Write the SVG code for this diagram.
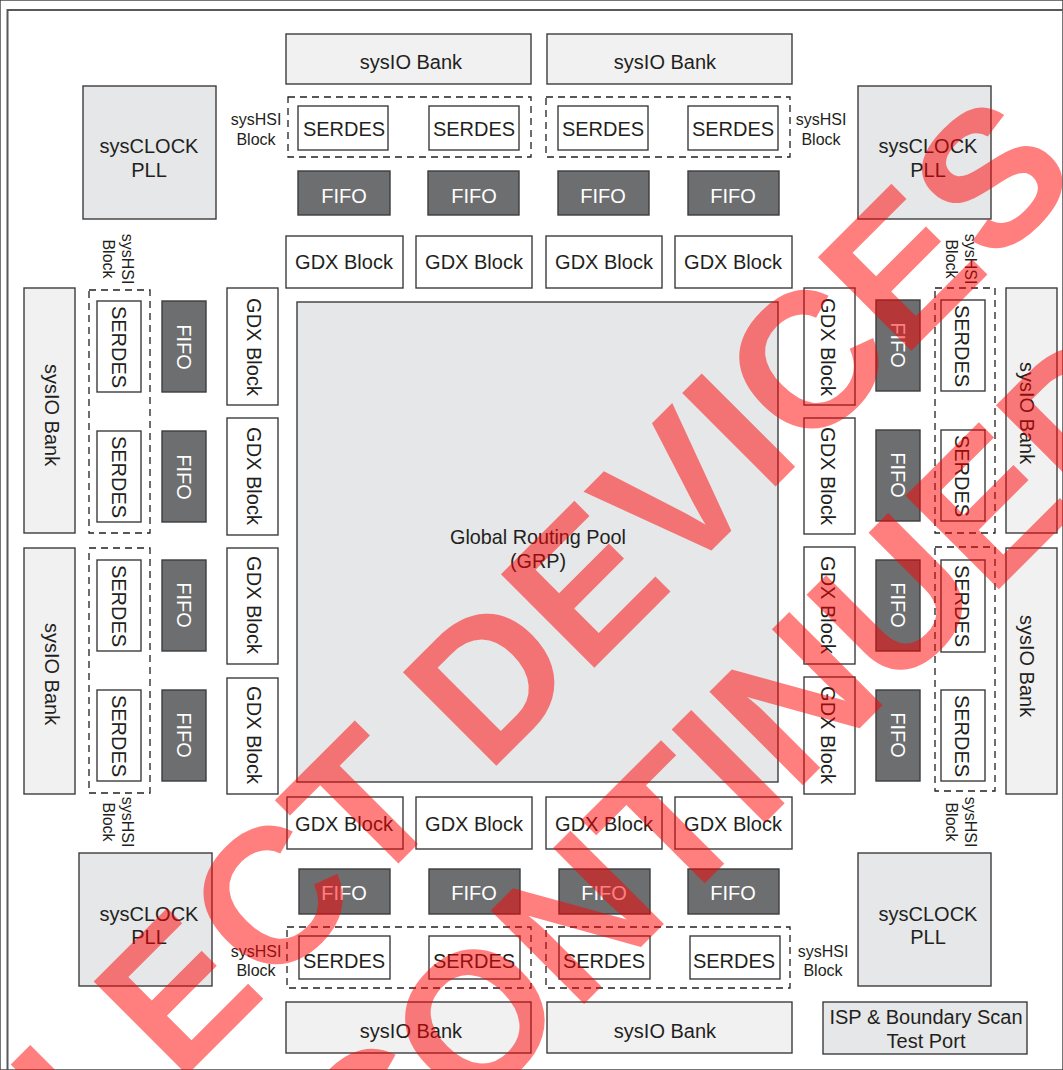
<svg xmlns="http://www.w3.org/2000/svg" width="1063" height="1070" viewBox="0 0 1063 1070">
<style>
text{font-family:"Liberation Sans",Arial,sans-serif;font-size:20px;fill:#231f20;text-anchor:middle}
rect{stroke:#3c3c3e;stroke-width:1.4}
.w{fill:#fff}.io{fill:#f1f1f2}.pll{fill:#e6e7e8}
.f{fill:#6d6e70}.f+text{fill:#fff}
.d{fill:none;stroke:#231f20;stroke-dasharray:7 5;stroke-width:1.3}
.s{font-size:16px}
.wm{font-size:192px;font-weight:700;fill:#ff0000;fill-opacity:.5;text-anchor:start;font-kerning:none}
</style>
<rect width="1063" height="1070" fill="#fff" stroke="none"/>
<path d="M7.500 1070V10H1063" fill="none" stroke="#58595b" stroke-width="2"/>
<g id="io-t1"><rect class="io" x="286" y="34" width="245" height="50"/><text x="411" y="69">sysIO Bank</text></g>
<g id="io-t2"><rect class="io" x="547" y="34" width="245" height="50"/><text x="665" y="69">sysIO Bank</text></g>
<g id="io-b1"><rect class="io" x="286" y="1002" width="245" height="51"/><text x="411" y="1038">sysIO Bank</text></g>
<g id="io-b2"><rect class="io" x="547" y="1002" width="245" height="51"/><text x="665" y="1038">sysIO Bank</text></g>
<g id="io-l1"><rect class="io" x="24" y="288" width="51" height="245"/><text transform="translate(45,415) rotate(90)">sysIO Bank</text></g>
<g id="io-l2"><rect class="io" x="24" y="548" width="51" height="246"/><text transform="translate(45,674) rotate(90)">sysIO Bank</text></g>
<g id="io-r1"><rect class="io" x="1006" y="288" width="51" height="245"/><text transform="translate(1020,413) rotate(90)">sysIO Bank</text></g>
<g id="io-r2"><rect class="io" x="1006" y="548" width="51" height="246"/><text transform="translate(1020,666) rotate(90)">sysIO Bank</text></g>
<g id="pll-tl"><rect class="pll" x="83" y="86" width="133" height="133"/><text x="149" y="153">sysCLOCK</text><text x="149" y="177">PLL</text></g>
<g id="pll-tr"><rect class="pll" x="858" y="86" width="133" height="133"/><text x="928" y="153">sysCLOCK</text><text x="928" y="177">PLL</text></g>
<g id="pll-bl"><rect class="pll" x="79" y="853" width="133" height="133"/><text x="149" y="921">sysCLOCK</text><text x="149" y="944">PLL</text></g>
<g id="pll-br"><rect class="pll" x="858" y="853" width="133" height="133"/><text x="928" y="921">sysCLOCK</text><text x="928" y="944">PLL</text></g>
<g id="isp"><rect class="pll" x="823" y="1002" width="204" height="52"/><text x="926" y="1024">ISP &amp; Boundary Scan</text><text x="926" y="1048">Test Port</text></g>
<g id="grp"><rect class="pll" x="297" y="302" width="481" height="480"/><text x="538" y="544" style="font-size:19.800px">Global Routing Pool</text><text x="538" y="568" style="font-size:19.800px">(GRP)</text></g>

<g id="hsi-t1"><rect class="d" x="288" y="97" width="243" height="60"/><text class="s" x="256" y="125">sysHSI</text><text class="s" x="256" y="145">Block</text></g>
<g id="hsi-t2"><rect class="d" x="546" y="97" width="244" height="60"/><text class="s" x="821" y="125">sysHSI</text><text class="s" x="821" y="145">Block</text></g>
<g id="hsi-b1"><rect class="d" x="287" y="927" width="244" height="61"/><text class="s" x="256" y="957">sysHSI</text><text class="s" x="256" y="976">Block</text></g>
<g id="hsi-b2"><rect class="d" x="546" y="927" width="244" height="61"/><text class="s" x="823" y="957">sysHSI</text><text class="s" x="823" y="976">Block</text></g>
<g id="hsi-l1"><rect class="d" x="89" y="290" width="61" height="243"/><text class="s" transform="translate(122,259) rotate(90)">sysHSI</text><text class="s" transform="translate(103,259) rotate(90)">Block</text></g>
<g id="hsi-l2"><rect class="d" x="89" y="548" width="61" height="245"/><text class="s" transform="translate(122,822) rotate(90)">sysHSI</text><text class="s" transform="translate(103,822) rotate(90)">Block</text></g>
<g id="hsi-r1"><rect class="d" x="935" y="288" width="60" height="245"/><text class="s" transform="translate(965,259) rotate(90)">sysHSI</text><text class="s" transform="translate(946,259) rotate(90)">Block</text></g>
<g id="hsi-r2"><rect class="d" x="935" y="547" width="60" height="244"/><text class="s" transform="translate(965,822) rotate(90)">sysHSI</text><text class="s" transform="translate(946,822) rotate(90)">Block</text></g>

<g id="serdes-t1"><rect class="w" x="298" y="106" width="90" height="44"/><text x="344" y="136">SERDES</text></g>
<g id="serdes-t2"><rect class="w" x="429" y="106" width="90" height="44"/><text x="474" y="136">SERDES</text></g>
<g id="serdes-t3"><rect class="w" x="558" y="106" width="90" height="44"/><text x="603" y="136">SERDES</text></g>
<g id="serdes-t4"><rect class="w" x="688" y="106" width="90" height="44"/><text x="733" y="136">SERDES</text></g>
<g id="fifo-t1"><rect class="f" x="298" y="171" width="92" height="44"/><text x="344" y="203">FIFO</text></g>
<g id="fifo-t2"><rect class="f" x="428" y="171" width="91" height="44"/><text x="474" y="203">FIFO</text></g>
<g id="fifo-t3"><rect class="f" x="558" y="171" width="91" height="44"/><text x="603" y="203">FIFO</text></g>
<g id="fifo-t4"><rect class="f" x="688" y="171" width="91" height="44"/><text x="733" y="203">FIFO</text></g>
<g id="gdx-t1"><rect class="w" x="286" y="236" width="117" height="52"/><text x="344" y="269">GDX Block</text></g>
<g id="gdx-t2"><rect class="w" x="416" y="236" width="116" height="52"/><text x="474" y="269">GDX Block</text></g>
<g id="gdx-t3"><rect class="w" x="546" y="236" width="116" height="52"/><text x="604" y="269">GDX Block</text></g>
<g id="gdx-t4"><rect class="w" x="675" y="236" width="117" height="52"/><text x="733" y="269">GDX Block</text></g>

<g id="gdx-b1"><rect class="w" x="287" y="797" width="116" height="52"/><text x="344" y="831">GDX Block</text></g>
<g id="gdx-b2"><rect class="w" x="416" y="797" width="116" height="52"/><text x="474" y="831">GDX Block</text></g>
<g id="gdx-b3"><rect class="w" x="546" y="797" width="116" height="52"/><text x="604" y="831">GDX Block</text></g>
<g id="gdx-b4"><rect class="w" x="675" y="797" width="117" height="52"/><text x="733" y="831">GDX Block</text></g>
<g id="fifo-b1"><rect class="f" x="299" y="869" width="91" height="45"/><text x="344" y="900">FIFO</text></g>
<g id="fifo-b2"><rect class="f" x="429" y="869" width="91" height="45"/><text x="474" y="900">FIFO</text></g>
<g id="fifo-b3"><rect class="f" x="559" y="869" width="91" height="45"/><text x="604" y="900">FIFO</text></g>
<g id="fifo-b4"><rect class="f" x="688" y="869" width="91" height="45"/><text x="733" y="900">FIFO</text></g>
<g id="serdes-b1"><rect class="w" x="299" y="936" width="91" height="43"/><text x="344" y="968">SERDES</text></g>
<g id="serdes-b2"><rect class="w" x="429" y="936" width="91" height="43"/><text x="474" y="968">SERDES</text></g>
<g id="serdes-b3"><rect class="w" x="559" y="936" width="91" height="43"/><text x="604" y="968">SERDES</text></g>
<g id="serdes-b4"><rect class="w" x="690" y="936" width="90" height="43"/><text x="734" y="968">SERDES</text></g>

<g id="serdes-l1"><rect class="w" x="97" y="301" width="44" height="91"/><text transform="translate(112,347) rotate(90)">SERDES</text></g>
<g id="serdes-l2"><rect class="w" x="97" y="431" width="44" height="91"/><text transform="translate(112,477) rotate(90)">SERDES</text></g>
<g id="serdes-l3"><rect class="w" x="97" y="560" width="44" height="91"/><text transform="translate(112,606) rotate(90)">SERDES</text></g>
<g id="serdes-l4"><rect class="w" x="97" y="690" width="44" height="91"/><text transform="translate(112,736) rotate(90)">SERDES</text></g>
<g id="fifo-l1"><rect class="f" x="162" y="301" width="44" height="91"/><text transform="translate(177,347) rotate(90)">FIFO</text></g>
<g id="fifo-l2"><rect class="f" x="162" y="431" width="44" height="91"/><text transform="translate(177,477) rotate(90)">FIFO</text></g>
<g id="fifo-l3"><rect class="f" x="162" y="560" width="44" height="91"/><text transform="translate(177,605) rotate(90)">FIFO</text></g>
<g id="fifo-l4"><rect class="f" x="162" y="690" width="44" height="91"/><text transform="translate(177,735) rotate(90)">FIFO</text></g>
<g id="gdx-l1"><rect class="w" x="227" y="288" width="51" height="117"/><text transform="translate(247,347) rotate(90)">GDX Block</text></g>
<g id="gdx-l2"><rect class="w" x="227" y="418" width="51" height="117"/><text transform="translate(247,476) rotate(90)">GDX Block</text></g>
<g id="gdx-l3"><rect class="w" x="227" y="548" width="51" height="116"/><text transform="translate(247,605) rotate(90)">GDX Block</text></g>
<g id="gdx-l4"><rect class="w" x="227" y="678" width="51" height="116"/><text transform="translate(247,735) rotate(90)">GDX Block</text></g>

<g id="gdx-r1"><rect class="w" x="804" y="288" width="51" height="117"/><text transform="translate(821,347) rotate(90)">GDX Block</text></g>
<g id="gdx-r2"><rect class="w" x="804" y="418" width="51" height="116"/><text transform="translate(821,476) rotate(90)">GDX Block</text></g>
<g id="gdx-r3"><rect class="w" x="804" y="547" width="51" height="117"/><text transform="translate(821,605) rotate(90)">GDX Block</text></g>
<g id="gdx-r4"><rect class="w" x="804" y="677" width="51" height="117"/><text transform="translate(821,735) rotate(90)">GDX Block</text></g>
<g id="fifo-r1"><rect class="f" x="876" y="300" width="44" height="91"/><text transform="translate(891,345) rotate(90)">FIFO</text></g>
<g id="fifo-r2"><rect class="f" x="876" y="430" width="44" height="91"/><text transform="translate(891,475) rotate(90)">FIFO</text></g>
<g id="fifo-r3"><rect class="f" x="876" y="560" width="44" height="91"/><text transform="translate(891,605) rotate(90)">FIFO</text></g>
<g id="fifo-r4"><rect class="f" x="876" y="690" width="44" height="91"/><text transform="translate(891,735) rotate(90)">FIFO</text></g>
<g id="serdes-r1"><rect class="w" x="941" y="300" width="44" height="91"/><text transform="translate(955,346) rotate(90)">SERDES</text></g>
<g id="serdes-r2"><rect class="w" x="941" y="430" width="44" height="91"/><text transform="translate(955,476) rotate(90)">SERDES</text></g>
<g id="serdes-r3"><rect class="w" x="941" y="560" width="44" height="92"/><text transform="translate(955,606) rotate(90)">SERDES</text></g>
<g id="serdes-r4"><rect class="w" x="941" y="690" width="44" height="91"/><text transform="translate(955,736) rotate(90)">SERDES</text></g>

<g id="watermark">
<text class="wm" transform="translate(-86,1348) rotate(-45)">SELECT DEVICES</text>
<text class="wm" transform="translate(145,1443) rotate(-45)">DISCONTINUED</text>
</g>
</svg>
